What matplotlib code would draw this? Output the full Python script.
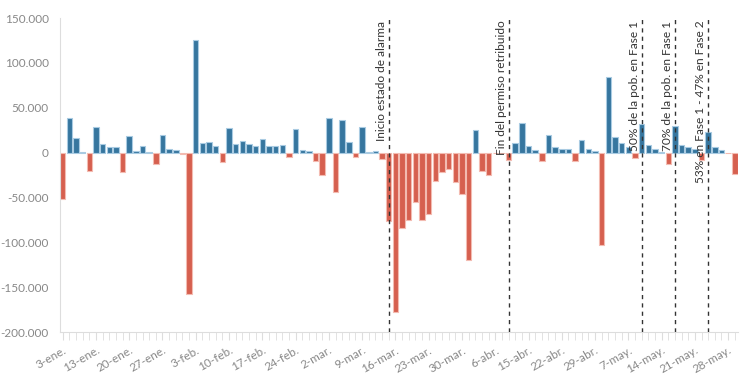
import matplotlib
matplotlib.use("Agg")
import matplotlib.pyplot as plt
import matplotlib.ticker as mticker
import numpy as np
import pandas as pd

# días hábiles (sin 6-ene, 9-abr, 10-abr, 1-may)
fechas = pd.bdate_range("2020-01-03", "2020-05-29", freq="C",
                        holidays=["2020-01-06", "2020-04-09", "2020-04-10", "2020-05-01"])

# variación diaria de afiliados (miles)
variacion = [
    -51.5, 38.7, 16.0, 1.0, -20.4, 28.6, 9.2, 6.2, 6.2, -21.5,
    18.6, 2.0, 7.0, 1.0, -12.5, 19.7, 4.0, 2.8, -1.8, -157.6,
    125.7, 11.2, 11.6, 7.8, -10.8, 27.5, 10.0, 13.4, 9.3, 7.8,
    15.2, 7.4, 7.4, 8.2, -4.5, 26.2, 3.0, 1.7, -9.7, -25.0,
    38.5, -44.2, 36.0, 11.3, -5.2, 29.0, 0.5, 2.0, -7.6, -76.0,
    -178.0, -84.4, -75.0, -55.0, -75.0, -68.6, -32.2, -22.0, -18.0, -32.5,
    -46.6, -119.7, 25.3, -20.2, -25.5, -1.0, -0.3, -8.4, 10.4, 32.5,
    7.8, 3.3, -9.7, 20.0, 6.3, 3.7, 3.7, -9.3, 13.8, 4.0,
    2.0, -103.0, 84.0, 17.0, 10.6, 6.4, -6.3, 31.7, 8.4, 3.7,
    0.7, -12.8, 29.7, 8.2, 6.3, 4.5, -8.6, 22.7, 6.7, 3.0,
    -0.3, -23.4,
]

meses = {1: "ene", 2: "feb", 3: "mar", 4: "abr", 5: "may"}

eventos = [
    ("Inicio estado de alarma", "2020-03-13"),
    ("Fin del permiso retribuido", "2020-04-08"),
    ("50% de la pob. en Fase 1", "2020-05-11"),
    ("70% de la pob. en Fase 1", "2020-05-18"),
    ("53% en Fase 1 - 47% en Fase 2", "2020-05-25"),
]

valores = np.array(variacion) * 1000
x = np.arange(len(fechas))
azul, azul_borde = "#36769f", "#a9cbe2"
rojo, rojo_borde = "#d6604f", "#f3bbb1"
colores = [azul if v >= 0 else rojo for v in valores]
bordes = [azul_borde if v >= 0 else rojo_borde for v in valores]

plt.rcParams["font.family"] = ["Lato", "DejaVu Sans"]
fig = plt.figure(figsize=(7.46, 3.76), dpi=100)
ax = fig.add_axes([0.08, 0.117, 0.909, 0.835])

ax.bar(x, valores, width=0.82, color=colores, edgecolor=bordes, linewidth=0.8, zorder=2)

ax.set_ylim(-200000, 150000)
ax.set_xlim(-0.45, len(x) - 0.55)
ax.yaxis.set_major_locator(mticker.MultipleLocator(50000))
ax.yaxis.set_major_formatter(mticker.FuncFormatter(lambda v, p: f"{int(v):,}".replace(",", ".")))

etiquetas = [f"{d.day}-{meses[d.month]}." for d in fechas]
ax.set_xticks(x, minor=True)
ax.set_xticks(x[::5])
ax.set_xticklabels(etiquetas[::5], rotation=30, ha="right", rotation_mode="anchor")

for s in ["top", "right"]:
    ax.spines[s].set_visible(False)
for s in ["left", "bottom"]:
    ax.spines[s].set_color("#dddddd")
ax.tick_params(axis="y", length=0, pad=8, labelsize=8.5, labelcolor="#888888")
ax.tick_params(axis="x", which="both", length=6, color="#dddddd",
               labelsize=8.5, labelcolor="#888888", pad=3)

pos = {f: i for i, f in enumerate(fechas.strftime("%Y-%m-%d"))}
for texto, f in eventos:
    i = pos[f]
    ax.axvline(i, color="#333333", linestyle=(0, (3, 3)), linewidth=1, zorder=3)
    ax.text(i - 0.3, 147000, texto, rotation=90, ha="right", va="top",
            fontsize=8.6, color="#333333", zorder=4)

fig.savefig("out.png", dpi=100)
